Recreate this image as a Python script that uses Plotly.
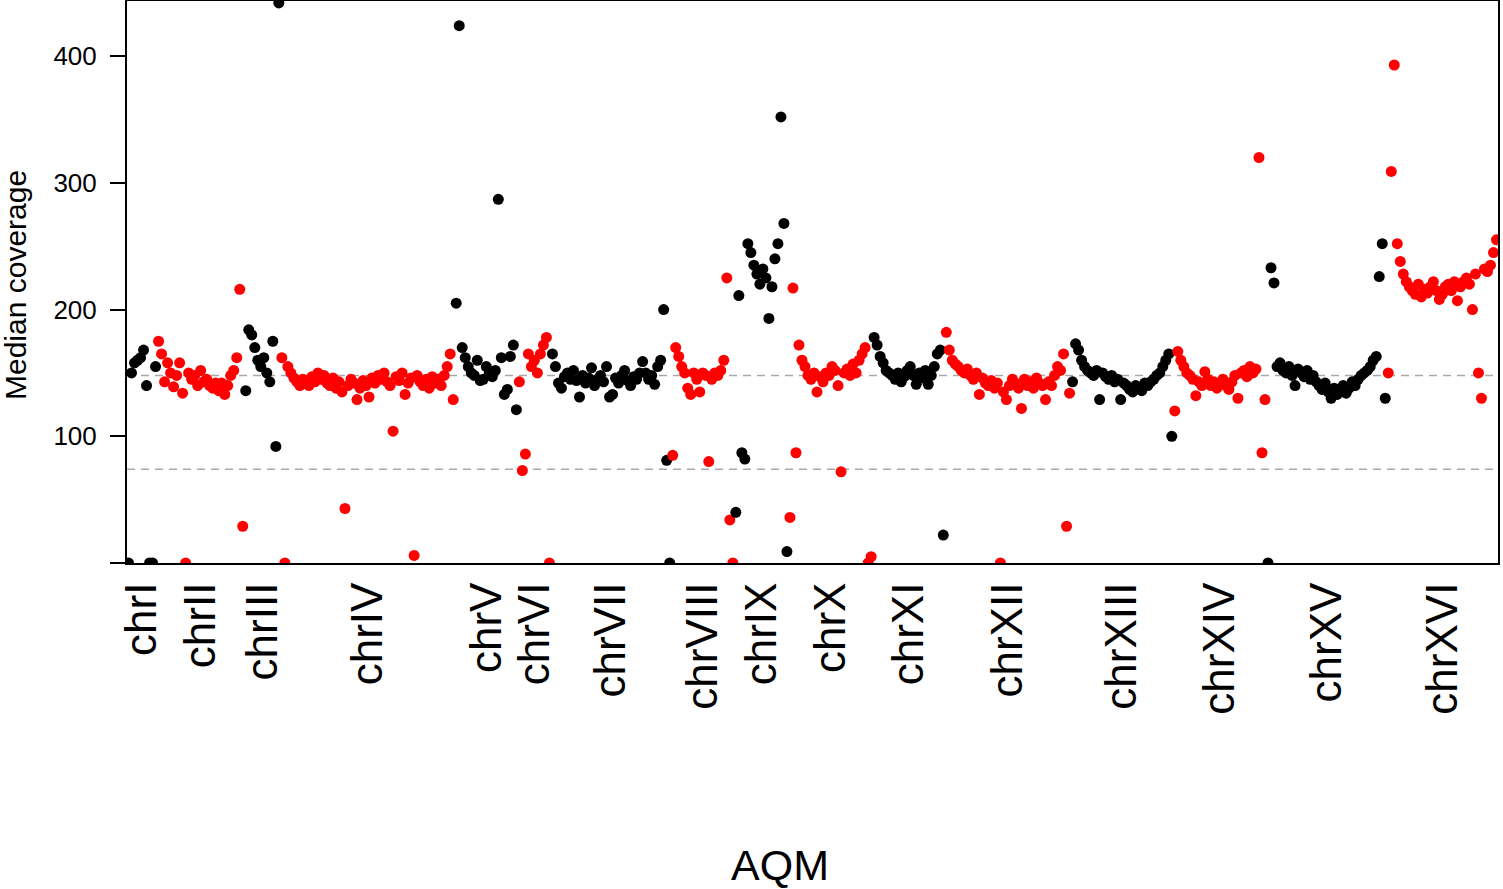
import plotly.graph_objects as go

# median coverage per bin (one list per chromosome)
chr_names = ["chrI", "chrII", "chrIII", "chrIV", "chrV", "chrVI", "chrVII", "chrVIII",
             "chrIX", "chrX", "chrXI", "chrXII", "chrXIII", "chrXIV", "chrXV", "chrXVI"]

chrI = [0, 150, 158, 160, 162, 168, 140, 0, 0, 155]
chrII = [175, 165, 143, 158, 150, 139, 148, 158, 134, 0, 150, 145, 148, 140, 152, 143, 145,
         140, 138, 142, 136, 142, 133, 140, 148, 152, 162, 216, 29]
chrIII = [136, 184, 180, 170, 160, 155, 162, 150, 143, 175, 92, 442]
chrIV = [162, 0, 155, 150, 146, 143, 140, 145, 142, 140, 147, 143, 150, 145, 148, 142, 140,
         146, 138, 143, 135, 43, 140, 145, 142, 129, 138, 144, 140, 131, 146, 142, 148, 145,
         150, 143, 140, 104, 147, 144, 150, 133, 142, 146, 6, 148, 143, 140, 145, 138, 147,
         142, 145, 140, 148, 155, 165, 129]
chrV = [205, 424, 170, 162, 155, 150, 148, 160, 144, 145, 155, 150, 147, 152, 287, 162, 133,
        137, 163, 172, 121]
chrVI = [143, 73, 86, 165, 155, 160, 150, 165, 172, 178, 0]
chrVII = [165, 155, 142, 138, 147, 150, 145, 152, 144, 131, 148, 142, 146, 154, 140, 145, 148,
          143, 155, 131, 133, 146, 142, 148, 152, 144, 140, 147, 145, 150, 159, 150, 145, 148,
          141, 155, 160, 200, 81, 0]
chrVIII = [85, 170, 163, 155, 150, 138, 133, 150, 145, 135, 150, 148, 80, 145, 150, 148, 152,
           160, 225, 34, 0]
chrIX = [40, 211, 87, 82, 252, 245, 235, 228, 220, 232, 225, 193, 218, 240, 252, 352, 268, 9]
chrX = [36, 217, 87, 172, 160, 155, 148, 145, 150, 135, 147, 143, 150, 148, 155, 152, 140, 72,
        150, 153, 148, 157, 150, 160, 165, 170, 0, 5]
chrXI = [178, 172, 163, 158, 152, 150, 148, 145, 150, 143, 147, 152, 155, 148, 141, 150, 146,
         152, 141, 148, 155, 165, 168, 22]
chrXII = [182, 168, 160, 157, 155, 152, 150, 153, 148, 145, 150, 133, 146, 142, 140, 144, 138,
          142, 0, 135, 129, 140, 145, 142, 138, 122, 145, 140, 143, 138, 146, 142, 140, 129,
          143, 140, 148, 155, 152, 165, 29, 134]
chrXIII = [143, 173, 168, 160, 155, 152, 150, 148, 152, 129, 150, 147, 145, 148, 143, 145, 129,
           142, 140, 137, 135, 140, 138, 136, 142, 140, 143, 145, 148, 150, 155, 160, 165, 100]
chrXIV = [120, 167, 160, 155, 150, 148, 145, 132, 143, 140, 151, 145, 140, 143, 138, 142, 145,
          140, 137, 143, 148, 130, 150, 152, 147, 155, 150, 153, 320, 87, 129]
chrXV = [0, 233, 221, 155, 158, 152, 150, 155, 148, 140, 153, 150, 147, 152, 145, 148, 143, 140,
         137, 142, 135, 130, 138, 133, 136, 140, 134, 138, 143, 140, 145, 148, 150, 152, 155,
         160, 163, 226, 252, 130]
chrXVI = [150, 309, 393, 252, 238, 228, 222, 218, 215, 212, 220, 210, 216, 213, 218, 222, 215,
          208, 212, 218, 220, 215, 222, 207, 218, 222, 225, 220, 200, 228, 150, 130, 232, 230,
          235, 245, 255]

chr_values = [chrI, chrII, chrIII, chrIV, chrV, chrVI, chrVII, chrVIII,
              chrIX, chrX, chrXI, chrXII, chrXIII, chrXIV, chrXV, chrXVI]

genome_median = 148
half_median = 74

font = "Liberation Sans, Arial, Helvetica, sans-serif"
colors = ["black", "red"]

fig = go.Figure()
tick_pos = []
start = 0
for k, vals in enumerate(chr_values):
    xs = list(range(start + 1, start + len(vals) + 1))
    fig.add_trace(go.Scatter(
        x=xs, y=vals, mode="markers",
        marker=dict(color=colors[k % 2], size=11),
        showlegend=False, hoverinfo="y",
    ))
    tick_pos.append(start + (len(vals) + 1) / 2)
    start += len(vals)
n_total = start

for level in (genome_median, half_median):
    fig.add_shape(type="line", xref="paper", x0=0, x1=1, y0=level, y1=level,
                  line=dict(color="#a8a8a8", width=1.5, dash="8px,6px"), layer="below")

fig.update_xaxes(
    range=[0.5, n_total + 0.5],
    tickvals=tick_pos, ticktext=chr_names, tickangle=-90,
    ticks="",
    tickfont=dict(family=font, size=44, color="black"),
    showline=True, mirror=True, linecolor="black", linewidth=2,
    showgrid=False, zeroline=False, automargin=False,
)
fig.update_yaxes(
    range=[0, 443.5],
    tickvals=[0, 100, 200, 300, 400], ticktext=["", "100", "200", "300", "400"],
    ticks="outside", ticklen=15, tickwidth=2, tickcolor="black", ticklabelstandoff=8,
    tickfont=dict(family=font, size=26, color="black"),
    showline=True, mirror=True, linecolor="black", linewidth=2,
    showgrid=False, zeroline=False, automargin=False,
)

fig.add_annotation(text="Median coverage", xref="paper", yref="paper",
                   x=(16 - 127) / 1371, y=(563 - 285) / 562, xanchor="center", yanchor="middle",
                   textangle=-90, showarrow=False, font=dict(family=font, size=30, color="black"))
fig.add_annotation(text="AQM", xref="paper", yref="paper",
                   x=(780 - 127) / 1371, y=(563 - 865) / 562, xanchor="center", yanchor="middle",
                   showarrow=False, font=dict(family=font, size=43, color="black"))

fig.update_layout(
    width=1503, height=889,
    margin=dict(l=127, r=5, t=1, b=326),
    plot_bgcolor="white", paper_bgcolor="white",
    font=dict(family=font, color="black"),
)

# drop the default page margin so the figure sits at the window's corner
fig.write_html("out.html", config={"displayModeBar": False},
               post_script="document.body.style.margin='0px';")
